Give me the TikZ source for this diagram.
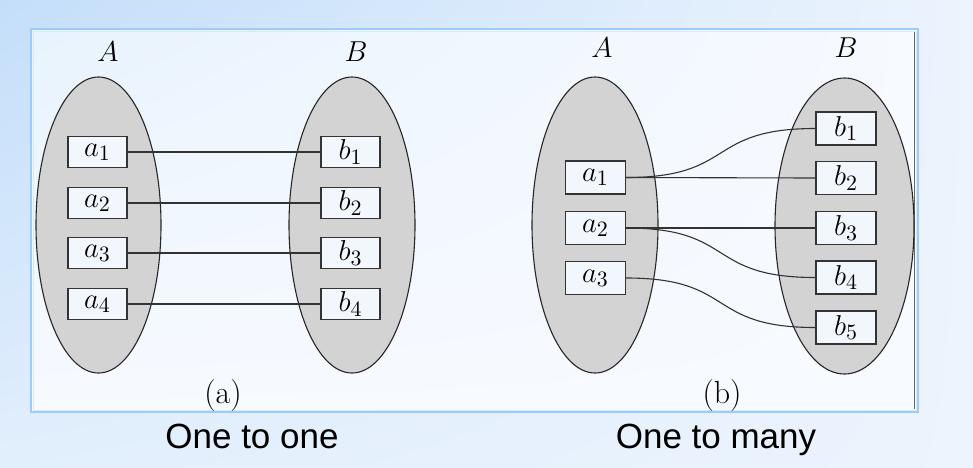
\documentclass[tikz,border=0pt]{standalone}
\usepackage{fontspec}
\newfontfamily\capfont{Liberation Sans}
\usetikzlibrary{shapes.geometric,shadings}
\definecolor{bgdark}{RGB}{196,222,250}
\definecolor{bglight}{RGB}{236,244,253}
\definecolor{panetop}{RGB}{232,243,253}
\definecolor{panelow}{RGB}{247,250,255}
\definecolor{frameline}{RGB}{158,204,250}
\definecolor{setgray}{RGB}{211,211,211}
\definecolor{boxfill}{RGB}{242,247,254}
\tikzset{
  setshape/.style={ellipse, draw=black!85, fill=setgray, line width=0.55pt, inner sep=0pt, minimum height=148pt},
  elem/.style={draw=black!80, fill=boxfill, inner sep=0pt, line width=0.7pt, font=\fontsize{15}{17}\selectfont},
  leftelem/.style={elem, minimum width=29.5pt, minimum height=15.5pt},
  rightelem/.style={elem, minimum width=30pt, minimum height=16.5pt},
  setname/.style={font=\fontsize{14.5}{17}\selectfont},
  partname/.style={font=\fontsize{16}{18}\selectfont},
  link/.style={line width=0.55pt, black!80},
}
\begin{document}
\begin{tikzpicture}[x=0.5pt,y=-0.5pt]
\useasboundingbox (0,0) rectangle (973,467);
% background and frame
\shade[upper left=bgdark, upper right=bglight, lower left=bglight!75!bgdark, lower right=bglight] (0,0) rectangle (973,467);
\shade[upper left=panetop, upper right=panelow, lower left=panelow, lower right=panelow] (31,29) rectangle (918,412);
\draw[frameline, line width=1.2pt] (31,29) rectangle (918,412);
\draw[frameline!40!white, line width=0.4pt] (33,31) rectangle (916,410);
\draw[black!60, line width=0.4pt] (914.5,32) -- (914.5,409);

% (a) one to one
\node[setshape, minimum width=62.5pt] (lA) at (98.5,225) {};
\node[setshape, minimum width=63pt] (lB) at (352,225) {};
\node[setname] (lAname) at (108,52) {$A$};
\node[setname] (lBname) at (356,52) {$B$};
\node[leftelem] (la1) at (97.5,152) {$a_1$};
\node[leftelem] (la2) at (97.5,203) {$a_2$};
\node[leftelem] (la3) at (97.5,253) {$a_3$};
\node[leftelem] (la4) at (97.5,304) {$a_4$};
\node[leftelem] (lb1) at (350.5,152) {$b_1$};
\node[leftelem] (lb2) at (350.5,203) {$b_2$};
\node[leftelem] (lb3) at (350.5,253) {$b_3$};
\node[leftelem] (lb4) at (350.5,304) {$b_4$};
\draw[link] (la1) -- (lb1);
\draw[link] (la2) -- (lb2);
\draw[link] (la3) -- (lb3);
\draw[link] (la4) -- (lb4);
\node[partname] (lcap) at (223,396) {(a)};
\node[font=\capfont\fontsize{17.5}{20}\selectfont, anchor=base] (lone) at (252,448) {One to one};

% (b) one to many
\node[setshape, minimum width=63pt] (rA) at (595,225) {};
\node[setshape, minimum width=69.5pt] (rB) at (844.5,226) {};
\node[setname] (rAname) at (602,48) {$A$};
\node[setname] (rBname) at (846,48) {$B$};
\node[rightelem] (ra1) at (595.5,177.5) {$a_1$};
\node[rightelem] (ra2) at (595.5,228) {$a_2$};
\node[rightelem] (ra3) at (595.5,278) {$a_3$};
\node[rightelem] (rb1) at (846,128.5) {$b_1$};
\node[rightelem] (rb2) at (846,178) {$b_2$};
\node[rightelem] (rb3) at (846,228) {$b_3$};
\node[rightelem] (rb4) at (846,277.5) {$b_4$};
\node[rightelem] (rb5) at (846,327.5) {$b_5$};
\draw[link] (ra1.east) .. controls +(55pt,0) and +(-55pt,0) .. (rb1.west);
\draw[link] (ra1.east) -- (rb2.west);
\draw[link] (ra2.east) -- (rb3.west);
\draw[link] (ra2.east) .. controls +(55pt,0) and +(-55pt,0) .. (rb4.west);
\draw[link] (ra3.east) .. controls +(55pt,0) and +(-55pt,0) .. (rb5.west);
\node[partname] (rcap) at (722,396) {(b)};
\node[font=\capfont\fontsize{17.5}{20}\selectfont, anchor=base] (rmany) at (716,448) {One to many};
\end{tikzpicture}
\end{document}
